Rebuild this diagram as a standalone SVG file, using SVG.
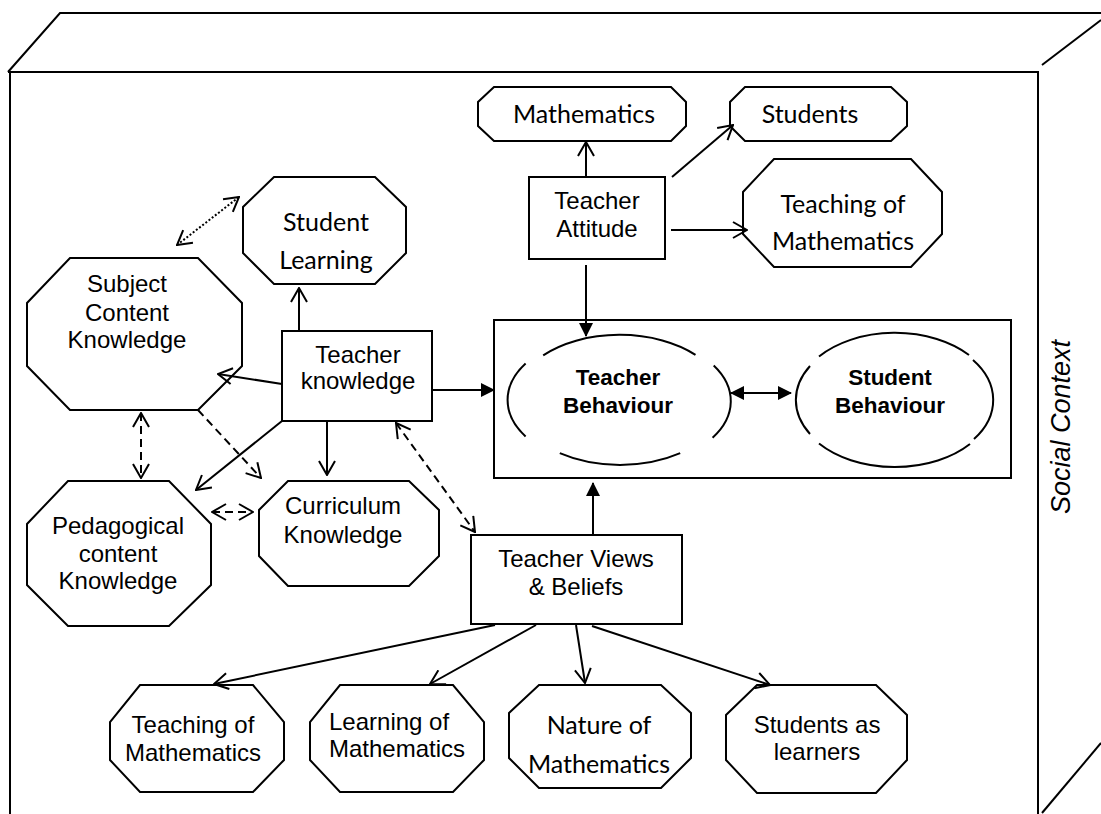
<svg xmlns="http://www.w3.org/2000/svg" width="1101" height="814" viewBox="0 0 1101 814">
<style>
.frame{fill:none;stroke:#000;stroke-width:2}
.node{fill:#fff;stroke:#000;stroke-width:2}
.arc{fill:none;stroke:#000;stroke-width:2}
.a{font-family:"Liberation Sans",Arial,sans-serif;font-size:24px;text-anchor:middle;fill:#000}
.c{font-family:Lato,"Open Sans",sans-serif;font-size:25px;text-anchor:middle;fill:#000}
.b{font-family:"Liberation Sans",Arial,sans-serif;font-size:22.5px;font-weight:bold;text-anchor:middle;fill:#000}
.ln{fill:none;stroke:#000;stroke-width:2}
.open{marker-end:url(#ho)}
.open2{marker-start:url(#ho);marker-end:url(#ho)}
.fill{marker-end:url(#hf)}
.dash{stroke-dasharray:8 5}
.dot{stroke-dasharray:2 2}
</style>
<defs>
<marker id="ho" viewBox="0 0 16 18" refX="15" refY="9" markerWidth="16" markerHeight="18" markerUnits="userSpaceOnUse" orient="auto-start-reverse">
<path d="M1,1 L15,9 L1,17" fill="none" stroke="#000" stroke-width="2"/>
</marker>
<marker id="hf" viewBox="0 0 14 14" refX="13" refY="7" markerWidth="14" markerHeight="14" markerUnits="userSpaceOnUse" orient="auto-start-reverse">
<path d="M0,0 L14,7 L0,14 Z" fill="#000"/>
</marker>
</defs>

<g id="frame">
<path class="frame" d="M8,72 L60,13 L1101,13"/>
<path class="frame" d="M8,72 L1038,72 L1038,814"/>
<path class="frame" d="M10,72 L10,814"/>
<path class="frame" d="M1042,65 L1101,20"/>
<path class="frame" d="M1042,813 L1101,743"/>
<text x="1070" y="427" transform="rotate(-90 1070 427)" style="font-family:'Liberation Sans',Arial,sans-serif;font-size:27px;font-style:italic;text-anchor:middle">Social Context</text>
</g>

<g id="n-math">
<polygon class="node" points="494,87 671,87 686,102 686,126 671,141 494,141 478,126 478,102"/>
<text class="c" x="584" y="123">Mathematics</text>
</g>
<g id="n-students">
<polygon class="node" points="745,87 891,87 907,102 907,126 891,141 745,141 730,126 730,102"/>
<text class="c" x="810" y="123">Students</text>
</g>
<g id="n-attitude">
<rect class="node" x="529" y="177" width="136" height="82"/>
<text class="a" x="597" y="209">Teacher</text>
<text class="a" x="597" y="237">Attitude</text>
</g>
<g id="n-teaching-top">
<polygon class="node" points="774,159 911,159 942,192 942,234 911,267 774,267 743,234 743,192"/>
<text class="c" x="843" y="213">Teaching of</text>
<text class="c" x="843" y="250">Mathematics</text>
</g>
<g id="n-student-learning">
<polygon class="node" points="274,177 375,177 406,207 406,253 375,284 274,284 243,253 243,207"/>
<text class="c" x="326" y="231">Student</text>
<text class="c" x="326" y="269">Learning</text>
</g>
<g id="n-sck">
<polygon class="node" points="70,258 198,258 242,303 242,366 198,410 70,410 27,366 27,303"/>
<text class="a" x="127" y="292">Subject</text>
<text class="a" x="127" y="321">Content</text>
<text class="a" x="127" y="348">Knowledge</text>
</g>
<g id="n-knowledge">
<rect class="node" x="282" y="331" width="150" height="90"/>
<text class="a" x="358" y="363">Teacher</text>
<text class="a" x="358" y="389">knowledge</text>
</g>
<g id="n-behaviour">
<rect class="node" x="494" y="320" width="517" height="158" style="fill:none"/>
<g id="n-teacher-behaviour">
<path class="arc" d="M543.2,355.4 A105,65 0 0 1 695.5,354.8"/>
<path class="arc" d="M713.7,365.6 A105,65 0 0 1 712.6,437.7"/>
<path class="arc" d="M680.2,453.2 A105,65 0 0 1 559.8,453.2"/>
<path class="arc" d="M525.6,436.4 A105,65 0 0 1 525.6,363.6"/>
<text class="b" x="618" y="385">Teacher</text>
<text class="b" x="618" y="413">Behaviour</text>
</g>
<g id="n-student-behaviour">
<path class="arc" d="M819,356.5 A99,66 0 0 1 969,355"/>
<path class="arc" d="M973,360 A99,66 0 0 1 974,439"/>
<path class="arc" d="M970,444 A99,66 0 0 1 819,443.5"/>
<path class="arc" d="M810,434 A99,66 0 0 1 810,366"/>
<text class="b" x="890" y="385">Student</text>
<text class="b" x="890" y="413">Behaviour</text>
</g>
</g>
<g id="n-pck">
<polygon class="node" points="68,481 169,481 211,524 211,585 169,626 68,626 27,585 27,524"/>
<text class="a" x="118" y="534">Pedagogical</text>
<text class="a" x="118" y="562">content</text>
<text class="a" x="118" y="589">Knowledge</text>
</g>
<g id="n-curriculum">
<polygon class="node" points="288,481 409,481 439,510 439,556 409,586 288,586 259,556 259,510"/>
<text class="a" x="343" y="514">Curriculum</text>
<text class="a" x="343" y="543">Knowledge</text>
</g>
<g id="n-views">
<rect class="node" x="471" y="535" width="211" height="89"/>
<text class="a" x="576" y="567">Teacher Views</text>
<text class="a" x="576" y="595">&amp; Beliefs</text>
</g>
<g id="n-teaching-bottom">
<polygon class="node" points="140,685 253,685 284,722 284,760 253,792 140,792 110,760 110,722"/>
<text class="a" x="193" y="733">Teaching of</text>
<text class="a" x="193" y="761">Mathematics</text>
</g>
<g id="n-learning">
<polygon class="node" points="340,685 453,685 484,722 484,760 453,792 340,792 310,760 310,722"/>
<text class="a" x="329" y="730" style="text-anchor:start">Learning of</text>
<text class="a" x="329" y="757" style="text-anchor:start">Mathematics</text>
</g>
<g id="n-nature">
<polygon class="node" points="539,685 661,685 691,713 691,758 661,788 539,788 509,758 509,713"/>
<text class="c" x="599" y="734">Nature of</text>
<text class="c" x="599" y="773">Mathematics</text>
</g>
<g id="n-learners">
<polygon class="node" points="757,685 876,685 907,715 907,760 876,793 757,793 726,760 726,715"/>
<text class="a" x="817" y="733">Students as</text>
<text class="a" x="817" y="760">learners</text>
</g>

<g id="connectors">
<line class="ln open" x1="586" y1="177" x2="586" y2="142"/>
<line class="ln open" x1="672" y1="177" x2="733" y2="125"/>
<line class="ln open" x1="671" y1="230" x2="747" y2="230"/>
<line class="ln fill" x1="586" y1="265" x2="586" y2="336"/>
<line class="ln open" x1="299" y1="331" x2="299" y2="288"/>
<line class="ln open" x1="282" y1="384" x2="218" y2="374"/>
<line class="ln fill" x1="432" y1="390" x2="494" y2="390"/>
<line class="ln open" x1="282" y1="421" x2="196" y2="490"/>
<line class="ln open" x1="327" y1="421" x2="327" y2="475"/>
<line class="ln open2 dash" x1="396" y1="423" x2="475" y2="532"/>
<line class="ln open dash" x1="198" y1="410" x2="261" y2="478"/>
<line class="ln open2 dash" x1="141" y1="413" x2="141" y2="478"/>
<line class="ln open2 dash" x1="212" y1="512" x2="253" y2="512"/>
<line class="ln open2 dot" x1="177" y1="245" x2="239" y2="197"/>
<line class="ln fill" x1="593" y1="535" x2="593" y2="483"/>
<line class="ln open" x1="495" y1="625" x2="214" y2="684"/>
<line class="ln open" x1="536" y1="625" x2="430" y2="684"/>
<line class="ln open" x1="576" y1="625" x2="585" y2="683"/>
<line class="ln open" x1="592" y1="626" x2="770" y2="685"/>
<line class="ln" x1="731" y1="393" x2="791" y2="393" style="marker-start:url(#hf);marker-end:url(#hf)"/>
</g>
</svg>
